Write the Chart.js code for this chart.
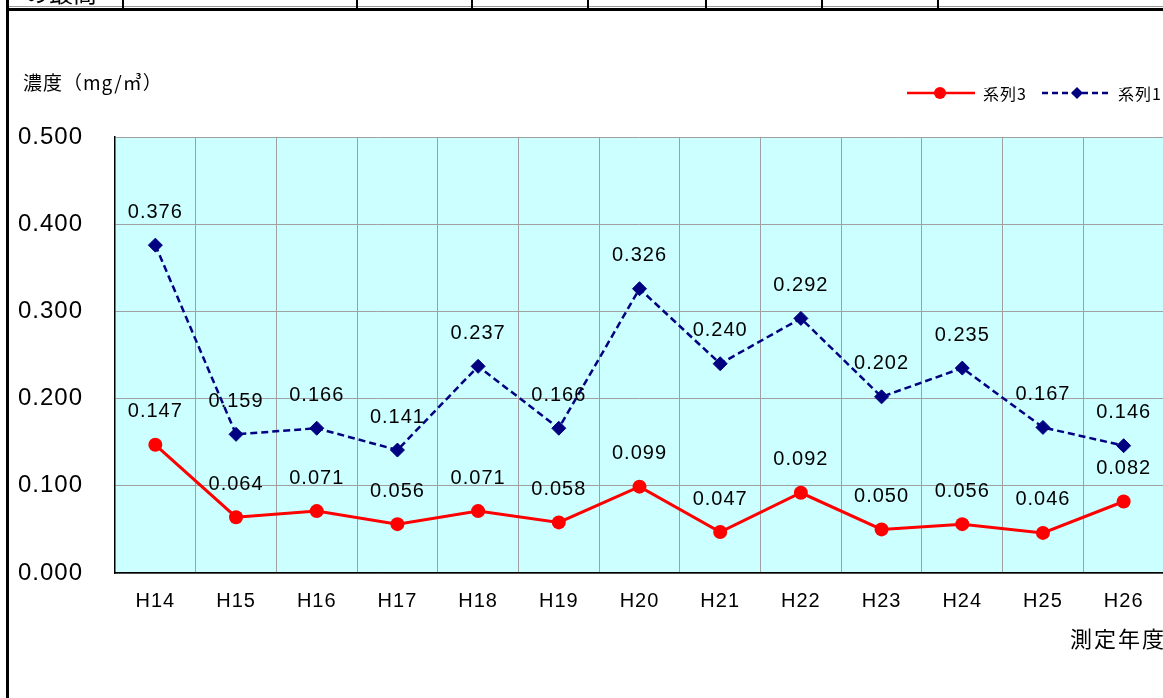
<!DOCTYPE html>
<html>
<head>
<meta charset="utf-8">
<script src="https://cdn.jsdelivr.net/npm/chart.js@4.4.0/dist/chart.umd.min.js"></script>
<style>
  html, body { margin: 0; padding: 0; background: #fff; overflow: hidden; width: 1163px; height: 698px; }
  #wrap { position: absolute; left: 0; top: 0; width: 1180px; height: 698px; }
  .ln { position: absolute; background: #000; }
  #cut { position: absolute; left: 9px; top: 0; width: 112px; height: 5px; overflow: hidden; }
  #cut span { position: absolute; left: 16px; top: -26px; font: 24px "Noto Sans CJK JP"; color: #000; white-space: nowrap; }
</style>
</head>
<body>
<div id="wrap"><canvas id="chart"></canvas></div>
<!-- leftover bits of the table above the chart -->
<div id="cut"><span>の最高</span></div>
<div class="ln" style="left:8px;top:6px;width:1160px;height:1px;background:#999"></div>
<div class="ln" style="left:6px;top:8px;width:1160px;height:3px"></div>
<div class="ln" style="left:6px;top:0;width:3px;height:698px"></div>
<div class="ln" style="left:122px;top:0;width:2px;height:9px"></div>
<div class="ln" style="left:356px;top:0;width:2px;height:9px"></div>
<div class="ln" style="left:471px;top:0;width:2px;height:9px"></div>
<div class="ln" style="left:587px;top:0;width:2px;height:9px"></div>
<div class="ln" style="left:705px;top:0;width:2px;height:9px"></div>
<div class="ln" style="left:821px;top:0;width:2px;height:9px"></div>
<div class="ln" style="left:937px;top:0;width:2px;height:9px"></div>
<script>
const years = ["H14", "H15", "H16", "H17", "H18", "H19", "H20", "H21", "H22", "H23", "H24", "H25", "H26"];
const series1 = [0.376, 0.159, 0.166, 0.141, 0.237, 0.166, 0.326, 0.240, 0.292, 0.202, 0.235, 0.167, 0.146];
const series3 = [0.147, 0.064, 0.071, 0.056, 0.071, 0.058, 0.099, 0.047, 0.092, 0.050, 0.056, 0.046, 0.082];
const yTickLabels = ["0.000", "0.100", "0.200", "0.300", "0.400", "0.500"];

const numFont = "Liberation Sans";
const jpFont = '"Noto Sans CJK JP"';

// plot background + letter spacing for all text
const bgPlugin = {
  id: "bg",
  beforeDraw(chart) {
    const { ctx, chartArea: a } = chart;
    ctx.letterSpacing = "1px";
    ctx.save();
    ctx.fillStyle = "#CCFFFF";
    ctx.fillRect(a.left, a.top, a.right - a.left, a.bottom - a.top);
    ctx.restore();
  },
};

// value labels above each point
const labelPlugin = {
  id: "valueLabels",
  afterDatasetsDraw(chart) {
    const ctx = chart.ctx;
    ctx.save();
    ctx.font = "20px " + numFont;
    ctx.fillStyle = "#000";
    ctx.textAlign = "center";
    ctx.textBaseline = "middle";
    chart.data.datasets.forEach((ds, i) => {
      const meta = chart.getDatasetMeta(i);
      meta.data.forEach((pt, j) => {
        ctx.fillText(ds.data[j].toFixed(3), pt.x, pt.y - 33);
      });
    });
    ctx.restore();
  },
};

// titles and legend
const textPlugin = {
  id: "texts",
  afterDraw(chart) {
    const ctx = chart.ctx;
    ctx.save();
    ctx.fillStyle = "#000";
    ctx.textBaseline = "middle";
    ctx.font = "19px " + jpFont;
    ctx.textAlign = "left";
    ctx.fillText("濃度（mg/㎥）", 23, 83);
    ctx.font = "22px " + jpFont;
    ctx.textAlign = "right";
    ctx.letterSpacing = "2px";
    ctx.fillText("測定年度", 1166, 639);
    ctx.letterSpacing = "1px";

    // legend: 系列3
    ctx.textAlign = "left";
    ctx.font = "16px " + jpFont;
    ctx.strokeStyle = "#FF0000";
    ctx.lineWidth = 2.5;
    ctx.beginPath();
    ctx.moveTo(907, 93);
    ctx.lineTo(975, 93);
    ctx.stroke();
    ctx.fillStyle = "#FF0000";
    ctx.beginPath();
    ctx.arc(940, 93, 6, 0, Math.PI * 2);
    ctx.fill();
    ctx.fillStyle = "#000";
    ctx.fillText("系列3", 983, 94);

    // legend: 系列1
    ctx.strokeStyle = "#000080";
    ctx.lineWidth = 2.5;
    ctx.setLineDash([6, 4]);
    ctx.beginPath();
    ctx.moveTo(1042, 93);
    ctx.lineTo(1110, 93);
    ctx.stroke();
    ctx.setLineDash([]);
    ctx.fillStyle = "#000080";
    ctx.beginPath();
    ctx.moveTo(1077, 87);
    ctx.lineTo(1083, 93);
    ctx.lineTo(1077, 99);
    ctx.lineTo(1071, 93);
    ctx.closePath();
    ctx.fill();
    ctx.fillStyle = "#000";
    ctx.fillText("系列1", 1118, 94);
    ctx.restore();
  },
};

const ctx = document.getElementById("chart").getContext("2d");
new Chart(ctx, {
  type: "line",
  data: {
    labels: years,
    datasets: [
      {
        label: "系列1",
        data: series1,
        borderColor: "#000080",
        backgroundColor: "#000080",
        borderWidth: 2.5,
        borderDash: [7, 4],
        pointStyle: "rectRot",
        pointRadius: 7,
        pointBorderWidth: 1,
        pointBackgroundColor: "#000080",
        pointBorderColor: "#000080",
        tension: 0,
      },
      {
        label: "系列3",
        data: series3,
        borderColor: "#FF0000",
        backgroundColor: "#FF0000",
        borderWidth: 3,
        pointStyle: "circle",
        pointRadius: 7,
        pointBorderWidth: 0,
        pointBackgroundColor: "#FF0000",
        tension: 0,
      },
    ],
  },
  options: {
    responsive: true,
    maintainAspectRatio: false,
    animation: false,
    layout: { padding: { left: 18, top: 137, right: 16, bottom: 0 } },
    plugins: {
      legend: { display: false },
      tooltip: { enabled: false },
    },
    scales: {
      x: {
        offset: true,
        grid: { offset: true, color: "#A0A0A0", lineWidth: 1, drawTicks: false },
        border: { color: "#000", width: 1.5 },
        ticks: { color: "#000", font: { family: numFont, size: 20 }, padding: 16 },
        afterFit(scale) { scale.height = 125; },
      },
      y: {
        min: 0,
        max: 0.5,
        grid: { color: "#A0A0A0", lineWidth: 1, drawTicks: false },
        border: { color: "#000", width: 1.5 },
        ticks: {
          stepSize: 0.1,
          color: "#000",
          font: { family: numFont, size: 24 },
          padding: 32,
          callback: (v, i) => yTickLabels[i],
        },
        afterFit(scale) { scale.width = 97; },
      },
    },
  },
  plugins: [bgPlugin, labelPlugin, textPlugin],
});
</script>
</body>
</html>
